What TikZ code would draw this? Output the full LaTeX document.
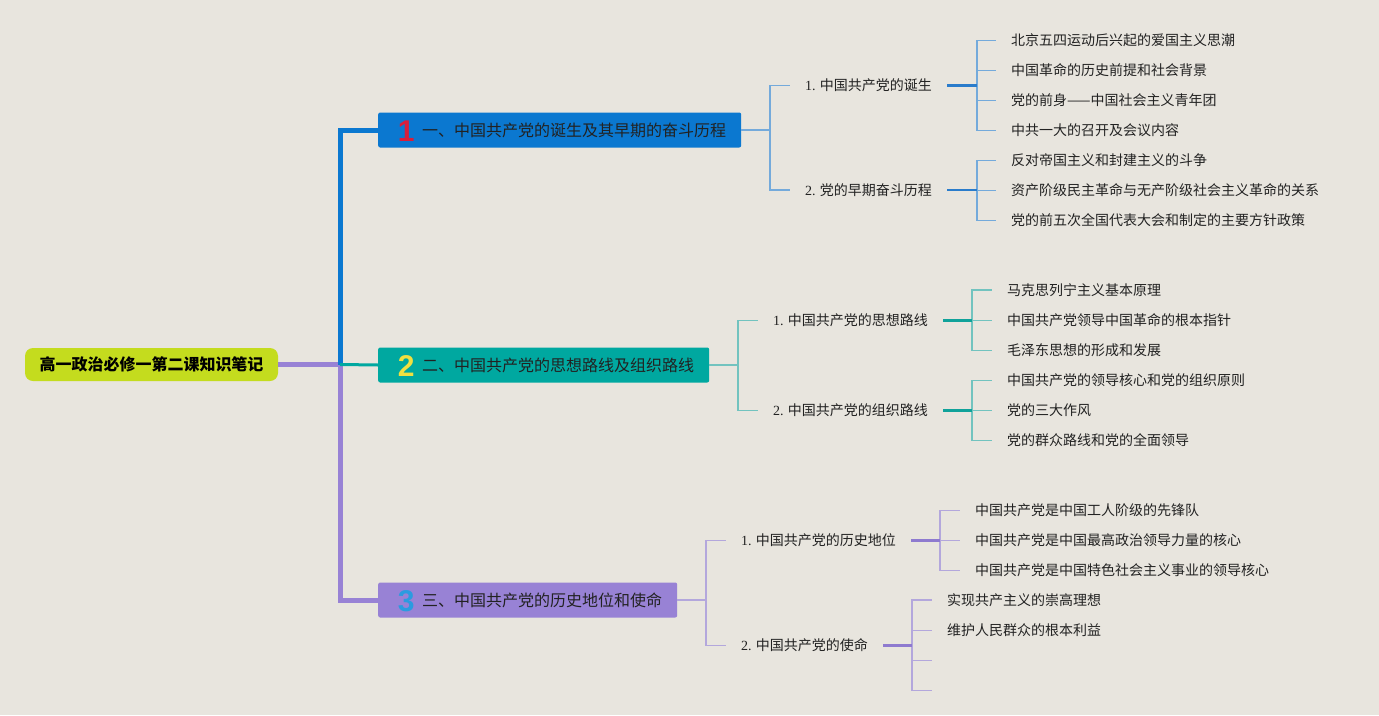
\documentclass[tikz,border=0pt]{standalone}
\usepackage{fontspec}
\setmainfont{Noto Sans CJK SC}
\newfontfamily\numfont{Liberation Sans}
\newfontfamily\latinserif{Liberation Serif}
\definecolor{bg}{HTML}{E8E5DE}
\definecolor{rootc}{HTML}{C4DC1E}
\definecolor{blueA}{HTML}{0B78D0}
\definecolor{blueL}{HTML}{74AADB}
\definecolor{blueD}{HTML}{2A7CCB}
\definecolor{tealA}{HTML}{00A8A0}
\definecolor{tealL}{HTML}{72C3BF}
\definecolor{tealD}{HTML}{10A29A}
\definecolor{purA}{HTML}{9882D5}
\definecolor{purL}{HTML}{B3A7DC}
\definecolor{purD}{HTML}{8E7ACF}
\definecolor{numred}{HTML}{D81E3C}
\definecolor{numyel}{HTML}{F0E040}
\definecolor{numblu}{HTML}{2B9BE0}
\definecolor{txt}{HTML}{222222}
\newcommand{\bnum}[2]{\hspace*{17pt}\makebox[22pt][c]{\smash{\raisebox{-5pt}{\numfont\bfseries\fontsize{30}{30}\selectfont\color{#1}#2}}}\hspace*{5pt}}
\newcommand{\snum}[1]{{\latinserif #1}}
\begin{document}
\begin{tikzpicture}[x=1pt,y=-1pt,
  rootbox/.style={fill=rootc, rounded corners=8pt, minimum width=253pt, minimum height=33pt,
    inner sep=0pt, font=\fontsize{16}{16}\selectfont\bfseries, text=black,
    text height=14.1pt, text depth=1.9pt},
  branch/.style={anchor=west, inner xsep=0pt, inner ysep=0pt, minimum height=35pt,
    rounded corners=2pt,
    font=\fontsize{16}{16}\selectfont, text=txt, text height=14.1pt, text depth=1.9pt},
  sub/.style={anchor=west, inner xsep=15pt, inner ysep=0pt,
    font=\fontsize{14}{14}\selectfont, text=txt, text height=12.3pt, text depth=1.7pt},
  leaf/.style={anchor=west, inner xsep=15pt, inner ysep=0pt,
    font=\fontsize{14}{14}\selectfont, text=txt, text height=12.3pt, text depth=1.7pt},
  trunk/.style={line width=5pt},
  lite/.style={line width=1.4pt},
  dark/.style={line width=2.6pt}
]
\useasboundingbox (0,0) rectangle (1379,715);
\fill[bg] (0,0) rectangle (1379,715);

% coordinates for verticals
\coordinate (tr) at (340,0);
\coordinate (c1) at (770,0);
\coordinate (c2) at (738,0);
\coordinate (c3) at (706,0);
\coordinate (v11) at (977,0);
\coordinate (v12) at (977,0);
\coordinate (v21) at (972,0);
\coordinate (v22) at (972,0);
\coordinate (v31) at (940,0);
\coordinate (v32) at (912,0);

% root
\node[rootbox] (root) at (151.5,364.5) {高一政治必修一第二课知识笔记};

% branches
\node[branch, fill=blueA] (b1) at (378,130) {\bnum{numred}{1}一、中国共产党的诞生及其早期的奋斗历程\hspace*{15pt}};
\node[branch, fill=tealA] (b2) at (378,365) {\bnum{numyel}{2}二、中国共产党的思想路线及组织路线\hspace*{15pt}};
\node[branch, fill=purA] (b3) at (378,600) {\bnum{numblu}{3}三、中国共产党的历史地位和使命\hspace*{15pt}};

% main trunk
\draw[trunk, purA] (root.east) -- (root.east -| tr) |- (b3.west);
\draw[trunk, blueA] (root.east -| tr) |- (b1.west);
\draw[line width=3pt, tealA] (root.east -| tr) -- (b2.west);

% ---- branch 1
\node[sub] (s11) at (790,85.5) {\snum{1.} 中国共产党的诞生};
\node[sub] (s12) at (790,190) {\snum{2.} 党的早期奋斗历程};
\draw[lite, blueL] (b1.east) -- (b1.east -| c1) |- (s11.west);
\draw[lite, blueL] (b1.east -| c1) |- (s12.west);

\node[leaf] (l111) at (996,40.5) {北京五四运动后兴起的爱国主义思潮};
\node[leaf] (l112) at (996,70.5) {中国革命的历史前提和社会背景};
\node[leaf] (l113) at (996,100.5) {党的前身——中国社会主义青年团};
\node[leaf] (l114) at (996,130.5) {中共一大的召开及会议内容};
\node[leaf] (l121) at (996,160.5) {反对帝国主义和封建主义的斗争};
\node[leaf] (l122) at (996,190.5) {资产阶级民主革命与无产阶级社会主义革命的关系};
\node[leaf] (l123) at (996,220.5) {党的前五次全国代表大会和制定的主要方针政策};

\foreach \l in {l111,l112,l113,l114} \draw[lite, blueL] (s11.east -| v11) |- (\l.west);
\foreach \l in {l121,l122,l123} \draw[lite, blueL] (s12.east -| v12) |- (\l.west);
\draw[dark, blueD] (s11.east) -- (s11.east -| v11);
\draw[dark, blueD] (s12.east) -- (s12.east -| v12);

% ---- branch 2
\node[sub] (s21) at (758,320.5) {\snum{1.} 中国共产党的思想路线};
\node[sub] (s22) at (758,410.5) {\snum{2.} 中国共产党的组织路线};
\draw[lite, tealL] (b2.east) -- (b2.east -| c2) |- (s21.west);
\draw[lite, tealL] (b2.east -| c2) |- (s22.west);

\node[leaf] (l211) at (992,290) {马克思列宁主义基本原理};
\node[leaf] (l212) at (992,320.5) {中国共产党领导中国革命的根本指针};
\node[leaf] (l213) at (992,350.5) {毛泽东思想的形成和发展};
\node[leaf] (l221) at (992,380.5) {中国共产党的领导核心和党的组织原则};
\node[leaf] (l222) at (992,410.5) {党的三大作风};
\node[leaf] (l223) at (992,440.5) {党的群众路线和党的全面领导};

\foreach \l in {l211,l212,l213} \draw[lite, tealL] (s21.east -| v21) |- (\l.west);
\foreach \l in {l221,l222,l223} \draw[lite, tealL] (s22.east -| v22) |- (\l.west);
\draw[dark, tealD] (s21.east) -- (s21.east -| v21);
\draw[dark, tealD] (s22.east) -- (s22.east -| v22);

% ---- branch 3
\node[sub] (s31) at (726,540.5) {\snum{1.} 中国共产党的历史地位};
\node[sub] (s32) at (726,645.5) {\snum{2.} 中国共产党的使命};
\draw[lite, purL] (b3.east) -- (b3.east -| c3) |- (s31.west);
\draw[lite, purL] (b3.east -| c3) |- (s32.west);

\node[leaf] (l311) at (960,510.5) {中国共产党是中国工人阶级的先锋队};
\node[leaf] (l312) at (960,540.5) {中国共产党是中国最高政治领导力量的核心};
\node[leaf] (l313) at (960,570.5) {中国共产党是中国特色社会主义事业的领导核心};
\node[leaf] (l321) at (932,600) {实现共产主义的崇高理想};
\node[leaf] (l322) at (932,630.5) {维护人民群众的根本利益};
\coordinate (l323) at (932,660.5);
\coordinate (l324) at (932,690.5);

\foreach \l in {l311,l312,l313} \draw[lite, purL] (s31.east -| v31) |- (\l.west);
\foreach \l in {l321,l322} \draw[lite, purL] (s32.east -| v32) |- (\l.west);
\foreach \l in {l323,l324} \draw[lite, purL] (s32.east -| v32) |- (\l);
\draw[dark, purD] (s31.east) -- (s31.east -| v31);
\draw[dark, purD] (s32.east) -- (s32.east -| v32);
\end{tikzpicture}
\end{document}
